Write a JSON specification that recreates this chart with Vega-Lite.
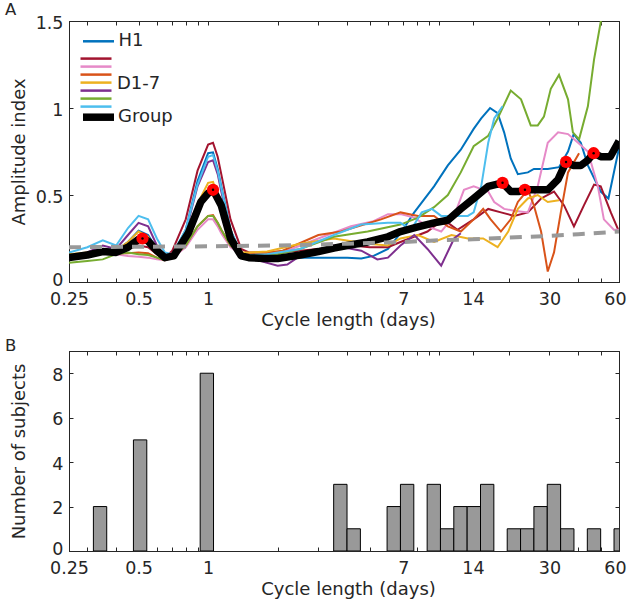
{
  "$schema": "https://vega.github.io/schema/vega-lite/v6.json",
  "padding": {"left": 4, "top": 1, "right": 0, "bottom": 0},
  "background": "white",
  "spacing": 69,
  "bounds": "flush",
  "config": {
    "font": "DejaVu Sans",
    "view": {"stroke": "#262626", "strokeWidth": 1},
    "axis": {
      "domainColor": "#262626", "tickColor": "#262626", "labelColor": "#262626", "titleColor": "#262626",
      "labelFont": "DejaVu Sans", "titleFont": "DejaVu Sans", "labelFontSize": 17.5, "titleFontSize": 18,
      "titleFontWeight": "normal", "grid": false, "tickSize": -4, "labelOverlap": false, "labelFlush": false,
      "labelBound": false, "domainWidth": 1, "tickWidth": 1
    },
    "legend": {"padding": 0, "labelFont": "DejaVu Sans", "labelColor": "#262626", "titleFont": "DejaVu Sans", "titleColor": "#262626"}
  },
  "datasets": {
    "curves": [
      {"s":"H1","d":0.25,"a":0.15},{"s":"H1","d":0.3,"a":0.17},{"s":"H1","d":0.35,"a":0.19},{"s":"H1","d":0.4,"a":0.18},{"s":"H1","d":0.45,"a":0.23},{"s":"H1","d":0.5,"a":0.295},{"s":"H1","d":0.55,"a":0.27},{"s":"H1","d":0.6,"a":0.19},{"s":"H1","d":0.65,"a":0.14},{"s":"H1","d":0.7,"a":0.15},{"s":"H1","d":0.8,"a":0.3},{"s":"H1","d":0.9,"a":0.58},{"s":"H1","d":1.0,"a":0.74},{"s":"H1","d":1.05,"a":0.745},{"s":"H1","d":1.1,"a":0.65},{"s":"H1","d":1.14,"a":0.55},{"s":"H1","d":1.25,"a":0.3},{"s":"H1","d":1.39,"a":0.16},{"s":"H1","d":1.5,"a":0.15},{"s":"H1","d":2,"a":0.15},{"s":"H1","d":2.5,"a":0.14},{"s":"H1","d":3,"a":0.14},{"s":"H1","d":4,"a":0.14},{"s":"H1","d":4.6,"a":0.135},{"s":"H1","d":5.2,"a":0.15},{"s":"H1","d":6,"a":0.19},{"s":"H1","d":6.8,"a":0.28},{"s":"H1","d":7.8,"a":0.4},{"s":"H1","d":9.5,"a":0.55},{"s":"H1","d":10.9,"a":0.67},{"s":"H1","d":12.4,"a":0.76},{"s":"H1","d":14.1,"a":0.88},{"s":"H1","d":15.2,"a":0.94},{"s":"H1","d":16.6,"a":1.0},{"s":"H1","d":17.9,"a":0.97},{"s":"H1","d":19.1,"a":0.86},{"s":"H1","d":20.4,"a":0.71},{"s":"H1","d":21.9,"a":0.62},{"s":"H1","d":24.2,"a":0.63},{"s":"H1","d":25.7,"a":0.65},{"s":"H1","d":29.5,"a":0.65},{"s":"H1","d":33,"a":0.66},{"s":"H1","d":36.1,"a":0.75},{"s":"H1","d":38.2,"a":0.85},{"s":"H1","d":41,"a":0.8},{"s":"H1","d":44,"a":0.67},{"s":"H1","d":50,"a":0.52},{"s":"H1","d":54,"a":0.48},{"s":"H1","d":60,"a":0.77},

      {"s":"D1","d":0.25,"a":0.15},{"s":"D1","d":0.3,"a":0.17},{"s":"D1","d":0.35,"a":0.19},{"s":"D1","d":0.4,"a":0.18},{"s":"D1","d":0.45,"a":0.19},{"s":"D1","d":0.5,"a":0.21},{"s":"D1","d":0.55,"a":0.2},{"s":"D1","d":0.6,"a":0.16},{"s":"D1","d":0.65,"a":0.14},{"s":"D1","d":0.7,"a":0.18},{"s":"D1","d":0.8,"a":0.36},{"s":"D1","d":0.9,"a":0.64},{"s":"D1","d":1.0,"a":0.79},{"s":"D1","d":1.05,"a":0.8},{"s":"D1","d":1.1,"a":0.72},{"s":"D1","d":1.14,"a":0.62},{"s":"D1","d":1.25,"a":0.36},{"s":"D1","d":1.39,"a":0.19},{"s":"D1","d":1.5,"a":0.17},{"s":"D1","d":2,"a":0.17},{"s":"D1","d":2.5,"a":0.18},{"s":"D1","d":3,"a":0.19},{"s":"D1","d":4.2,"a":0.21},{"s":"D1","d":5,"a":0.2},{"s":"D1","d":6,"a":0.2},{"s":"D1","d":6.8,"a":0.23},{"s":"D1","d":8.9,"a":0.29},{"s":"D1","d":10.4,"a":0.36},{"s":"D1","d":12,"a":0.3},{"s":"D1","d":14.1,"a":0.36},{"s":"D1","d":16.3,"a":0.42},{"s":"D1","d":18.5,"a":0.4},{"s":"D1","d":21.1,"a":0.38},{"s":"D1","d":24.2,"a":0.4},{"s":"D1","d":27.6,"a":0.48},{"s":"D1","d":31.4,"a":0.52},{"s":"D1","d":34.7,"a":0.44},{"s":"D1","d":38.3,"a":0.32},{"s":"D1","d":42.3,"a":0.44},{"s":"D1","d":46.8,"a":0.56},{"s":"D1","d":50,"a":0.55},{"s":"D1","d":55.3,"a":0.4},{"s":"D1","d":60,"a":0.29},

      {"s":"D2","d":0.25,"a":0.14},{"s":"D2","d":0.3,"a":0.16},{"s":"D2","d":0.35,"a":0.17},{"s":"D2","d":0.4,"a":0.16},{"s":"D2","d":0.45,"a":0.15},{"s":"D2","d":0.5,"a":0.145},{"s":"D2","d":0.55,"a":0.14},{"s":"D2","d":0.6,"a":0.13},{"s":"D2","d":0.65,"a":0.125},{"s":"D2","d":0.7,"a":0.14},{"s":"D2","d":0.8,"a":0.2},{"s":"D2","d":0.9,"a":0.3},{"s":"D2","d":1.0,"a":0.36},{"s":"D2","d":1.05,"a":0.36},{"s":"D2","d":1.1,"a":0.32},{"s":"D2","d":1.14,"a":0.28},{"s":"D2","d":1.25,"a":0.2},{"s":"D2","d":1.39,"a":0.16},{"s":"D2","d":1.5,"a":0.155},{"s":"D2","d":1.8,"a":0.16},{"s":"D2","d":2.1,"a":0.17},{"s":"D2","d":3,"a":0.25},{"s":"D2","d":4.15,"a":0.32},{"s":"D2","d":5.2,"a":0.35},{"s":"D2","d":6,"a":0.39},{"s":"D2","d":6.8,"a":0.39},{"s":"D2","d":7.8,"a":0.37},{"s":"D2","d":8.9,"a":0.32},{"s":"D2","d":10.2,"a":0.29},{"s":"D2","d":11.6,"a":0.38},{"s":"D2","d":12.8,"a":0.53},{"s":"D2","d":14.1,"a":0.55},{"s":"D2","d":16.3,"a":0.52},{"s":"D2","d":17.3,"a":0.46},{"s":"D2","d":19.1,"a":0.42},{"s":"D2","d":21.1,"a":0.41},{"s":"D2","d":24.2,"a":0.4},{"s":"D2","d":26.7,"a":0.55},{"s":"D2","d":29.5,"a":0.8},{"s":"D2","d":32.7,"a":0.86},{"s":"D2","d":36.1,"a":0.85},{"s":"D2","d":39.9,"a":0.8},{"s":"D2","d":44,"a":0.75},{"s":"D2","d":48.6,"a":0.55},{"s":"D2","d":51.6,"a":0.36},{"s":"D2","d":57,"a":0.3},{"s":"D2","d":60,"a":0.3},

      {"s":"D3","d":0.25,"a":0.15},{"s":"D3","d":0.3,"a":0.16},{"s":"D3","d":0.35,"a":0.17},{"s":"D3","d":0.4,"a":0.165},{"s":"D3","d":0.45,"a":0.165},{"s":"D3","d":0.5,"a":0.17},{"s":"D3","d":0.55,"a":0.165},{"s":"D3","d":0.6,"a":0.14},{"s":"D3","d":0.65,"a":0.125},{"s":"D3","d":0.7,"a":0.14},{"s":"D3","d":0.8,"a":0.21},{"s":"D3","d":0.9,"a":0.32},{"s":"D3","d":1.0,"a":0.38},{"s":"D3","d":1.05,"a":0.385},{"s":"D3","d":1.1,"a":0.34},{"s":"D3","d":1.14,"a":0.3},{"s":"D3","d":1.25,"a":0.21},{"s":"D3","d":1.39,"a":0.17},{"s":"D3","d":1.5,"a":0.16},{"s":"D3","d":1.8,"a":0.17},{"s":"D3","d":2.1,"a":0.18},{"s":"D3","d":3,"a":0.27},{"s":"D3","d":3.76,"a":0.29},{"s":"D3","d":5.6,"a":0.36},{"s":"D3","d":6.8,"a":0.4},{"s":"D3","d":8.1,"a":0.38},{"s":"D3","d":9.5,"a":0.38},{"s":"D3","d":10.9,"a":0.32},{"s":"D3","d":12.4,"a":0.29},{"s":"D3","d":14.1,"a":0.36},{"s":"D3","d":15.5,"a":0.42},{"s":"D3","d":16.7,"a":0.36},{"s":"D3","d":18.5,"a":0.29},{"s":"D3","d":20.4,"a":0.36},{"s":"D3","d":21.9,"a":0.46},{"s":"D3","d":24.2,"a":0.53},{"s":"D3","d":25.7,"a":0.44},{"s":"D3","d":27.6,"a":0.29},{"s":"D3","d":29.5,"a":0.06},{"s":"D3","d":31.4,"a":0.17},{"s":"D3","d":33.6,"a":0.4},{"s":"D3","d":36.1,"a":0.63},{"s":"D3","d":40.3,"a":0.74},

      {"s":"D4","d":0.25,"a":0.16},{"s":"D4","d":0.3,"a":0.17},{"s":"D4","d":0.35,"a":0.18},{"s":"D4","d":0.4,"a":0.18},{"s":"D4","d":0.45,"a":0.23},{"s":"D4","d":0.5,"a":0.29},{"s":"D4","d":0.55,"a":0.26},{"s":"D4","d":0.6,"a":0.18},{"s":"D4","d":0.65,"a":0.14},{"s":"D4","d":0.7,"a":0.15},{"s":"D4","d":0.8,"a":0.25},{"s":"D4","d":0.9,"a":0.45},{"s":"D4","d":1.0,"a":0.57},{"s":"D4","d":1.05,"a":0.575},{"s":"D4","d":1.1,"a":0.5},{"s":"D4","d":1.14,"a":0.43},{"s":"D4","d":1.25,"a":0.25},{"s":"D4","d":1.39,"a":0.17},{"s":"D4","d":1.5,"a":0.17},{"s":"D4","d":1.8,"a":0.175},{"s":"D4","d":2.5,"a":0.22},{"s":"D4","d":3.5,"a":0.25},{"s":"D4","d":4.9,"a":0.22},{"s":"D4","d":6,"a":0.21},{"s":"D4","d":6.8,"a":0.25},{"s":"D4","d":8.1,"a":0.27},{"s":"D4","d":9.5,"a":0.23},{"s":"D4","d":11.3,"a":0.27},{"s":"D4","d":13.3,"a":0.25},{"s":"D4","d":15.5,"a":0.25},{"s":"D4","d":17.9,"a":0.2},{"s":"D4","d":19.9,"a":0.29},{"s":"D4","d":21.9,"a":0.42},{"s":"D4","d":24.2,"a":0.48},{"s":"D4","d":26.7,"a":0.5},{"s":"D4","d":29.5,"a":0.46},{"s":"D4","d":33,"a":0.47},

      {"s":"D5","d":0.25,"a":0.14},{"s":"D5","d":0.3,"a":0.17},{"s":"D5","d":0.35,"a":0.21},{"s":"D5","d":0.4,"a":0.19},{"s":"D5","d":0.45,"a":0.27},{"s":"D5","d":0.5,"a":0.34},{"s":"D5","d":0.55,"a":0.32},{"s":"D5","d":0.6,"a":0.21},{"s":"D5","d":0.65,"a":0.15},{"s":"D5","d":0.7,"a":0.16},{"s":"D5","d":0.8,"a":0.29},{"s":"D5","d":0.9,"a":0.55},{"s":"D5","d":1.0,"a":0.69},{"s":"D5","d":1.05,"a":0.7},{"s":"D5","d":1.1,"a":0.62},{"s":"D5","d":1.14,"a":0.52},{"s":"D5","d":1.25,"a":0.29},{"s":"D5","d":1.39,"a":0.16},{"s":"D5","d":1.5,"a":0.14},{"s":"D5","d":1.69,"a":0.12},{"s":"D5","d":2.0,"a":0.094},{"s":"D5","d":2.2,"a":0.1},{"s":"D5","d":2.5,"a":0.15},{"s":"D5","d":3.0,"a":0.18},{"s":"D5","d":3.5,"a":0.21},{"s":"D5","d":4.2,"a":0.19},{"s":"D5","d":4.6,"a":0.18},{"s":"D5","d":5.4,"a":0.13},{"s":"D5","d":6.0,"a":0.14},{"s":"D5","d":6.8,"a":0.21},{"s":"D5","d":7.8,"a":0.27},{"s":"D5","d":8.9,"a":0.19},{"s":"D5","d":10.2,"a":0.094},{"s":"D5","d":11.6,"a":0.25},{"s":"D5","d":12.4,"a":0.28},

      {"s":"D6","d":0.25,"a":0.11},{"s":"D6","d":0.3,"a":0.12},{"s":"D6","d":0.35,"a":0.13},{"s":"D6","d":0.4,"a":0.16},{"s":"D6","d":0.45,"a":0.17},{"s":"D6","d":0.5,"a":0.16},{"s":"D6","d":0.55,"a":0.155},{"s":"D6","d":0.6,"a":0.14},{"s":"D6","d":0.65,"a":0.125},{"s":"D6","d":0.7,"a":0.14},{"s":"D6","d":0.8,"a":0.21},{"s":"D6","d":0.9,"a":0.32},{"s":"D6","d":1.0,"a":0.38},{"s":"D6","d":1.05,"a":0.38},{"s":"D6","d":1.1,"a":0.34},{"s":"D6","d":1.14,"a":0.3},{"s":"D6","d":1.25,"a":0.21},{"s":"D6","d":1.39,"a":0.16},{"s":"D6","d":1.5,"a":0.15},{"s":"D6","d":2,"a":0.16},{"s":"D6","d":2.5,"a":0.19},{"s":"D6","d":3.5,"a":0.26},{"s":"D6","d":4.9,"a":0.29},{"s":"D6","d":6.8,"a":0.33},{"s":"D6","d":8.1,"a":0.37},{"s":"D6","d":9.5,"a":0.43},{"s":"D6","d":10.9,"a":0.5},{"s":"D6","d":12.4,"a":0.63},{"s":"D6","d":14.1,"a":0.78},{"s":"D6","d":16.3,"a":0.84},{"s":"D6","d":17.9,"a":0.94},{"s":"D6","d":20.4,"a":1.1},{"s":"D6","d":22.6,"a":1.05},{"s":"D6","d":24.9,"a":0.9},{"s":"D6","d":26.7,"a":0.9},{"s":"D6","d":28.4,"a":0.95},{"s":"D6","d":30.4,"a":1.11},{"s":"D6","d":33,"a":1.19},{"s":"D6","d":36.1,"a":1.05},{"s":"D6","d":37.9,"a":0.86},{"s":"D6","d":40.3,"a":0.82},{"s":"D6","d":44,"a":1.01},{"s":"D6","d":46.8,"a":1.28},{"s":"D6","d":50.1,"a":1.5},{"s":"D6","d":53,"a":1.75},

      {"s":"D7","d":0.25,"a":0.17},{"s":"D7","d":0.3,"a":0.2},{"s":"D7","d":0.35,"a":0.24},{"s":"D7","d":0.4,"a":0.21},{"s":"D7","d":0.45,"a":0.31},{"s":"D7","d":0.5,"a":0.38},{"s":"D7","d":0.55,"a":0.36},{"s":"D7","d":0.6,"a":0.25},{"s":"D7","d":0.65,"a":0.17},{"s":"D7","d":0.7,"a":0.16},{"s":"D7","d":0.8,"a":0.3},{"s":"D7","d":0.9,"a":0.56},{"s":"D7","d":1.0,"a":0.72},{"s":"D7","d":1.05,"a":0.73},{"s":"D7","d":1.1,"a":0.64},{"s":"D7","d":1.14,"a":0.54},{"s":"D7","d":1.25,"a":0.3},{"s":"D7","d":1.39,"a":0.16},{"s":"D7","d":1.5,"a":0.155},{"s":"D7","d":1.8,"a":0.16},{"s":"D7","d":2.5,"a":0.19},{"s":"D7","d":3.5,"a":0.27},{"s":"D7","d":4.6,"a":0.33},{"s":"D7","d":6,"a":0.34},{"s":"D7","d":6.8,"a":0.34},{"s":"D7","d":7.55,"a":0.3},{"s":"D7","d":8.4,"a":0.4},{"s":"D7","d":9.3,"a":0.42},{"s":"D7","d":10.2,"a":0.38},{"s":"D7","d":13.3,"a":0.38},{"s":"D7","d":14.1,"a":0.4},{"s":"D7","d":15.2,"a":0.55},{"s":"D7","d":16.3,"a":0.8},{"s":"D7","d":17.3,"a":0.94},{"s":"D7","d":18.8,"a":1.01},

      {"s":"Group","d":0.25,"a":0.14},{"s":"Group","d":0.3,"a":0.155},{"s":"Group","d":0.35,"a":0.175},{"s":"Group","d":0.4,"a":0.17},{"s":"Group","d":0.45,"a":0.2},{"s":"Group","d":0.5,"a":0.245},{"s":"Group","d":0.52,"a":0.25},{"s":"Group","d":0.55,"a":0.235},{"s":"Group","d":0.6,"a":0.18},{"s":"Group","d":0.65,"a":0.14},{"s":"Group","d":0.71,"a":0.15},{"s":"Group","d":0.82,"a":0.28},{"s":"Group","d":0.93,"a":0.46},{"s":"Group","d":1.0,"a":0.51},{"s":"Group","d":1.05,"a":0.53},{"s":"Group","d":1.14,"a":0.44},{"s":"Group","d":1.25,"a":0.25},{"s":"Group","d":1.39,"a":0.15},{"s":"Group","d":1.5,"a":0.14},{"s":"Group","d":1.75,"a":0.135},{"s":"Group","d":2,"a":0.135},{"s":"Group","d":2.5,"a":0.155},{"s":"Group","d":3,"a":0.175},{"s":"Group","d":3.5,"a":0.195},{"s":"Group","d":4,"a":0.21},{"s":"Group","d":4.9,"a":0.23},{"s":"Group","d":6,"a":0.26},{"s":"Group","d":6.8,"a":0.29},{"s":"Group","d":8,"a":0.315},{"s":"Group","d":9.5,"a":0.34},{"s":"Group","d":10.9,"a":0.355},{"s":"Group","d":12.4,"a":0.42},{"s":"Group","d":14.1,"a":0.48},{"s":"Group","d":16.3,"a":0.55},{"s":"Group","d":18.8,"a":0.57},{"s":"Group","d":20.4,"a":0.52},{"s":"Group","d":22,"a":0.52},{"s":"Group","d":23.5,"a":0.53},{"s":"Group","d":26,"a":0.53},{"s":"Group","d":29.5,"a":0.53},{"s":"Group","d":32.7,"a":0.59},{"s":"Group","d":35.4,"a":0.69},{"s":"Group","d":38,"a":0.67},{"s":"Group","d":41,"a":0.67},{"s":"Group","d":44,"a":0.7},{"s":"Group","d":46.6,"a":0.74},{"s":"Group","d":50,"a":0.72},{"s":"Group","d":55,"a":0.72},{"s":"Group","d":60,"a":0.81},

      {"s":"Threshold","d":0.25,"a":0.2},{"s":"Threshold","d":1,"a":0.205},{"s":"Threshold","d":2,"a":0.21},{"s":"Threshold","d":4,"a":0.22},{"s":"Threshold","d":7,"a":0.23},{"s":"Threshold","d":10,"a":0.24},{"s":"Threshold","d":14,"a":0.245},{"s":"Threshold","d":20,"a":0.255},{"s":"Threshold","d":30,"a":0.265},{"s":"Threshold","d":40,"a":0.275},{"s":"Threshold","d":60,"a":0.29}
    ],
    "peaks": [
      {"d":0.52,"a":0.25},{"d":1.05,"a":0.53},{"d":18.8,"a":0.57},{"d":23.5,"a":0.53},{"d":35.4,"a":0.69},{"d":46.6,"a":0.74}
    ],
    "hist": [
      {"lo":0.3188,"hi":0.3641,"n":2},
      {"lo":0.4751,"hi":0.5427,"n":5},
      {"lo":0.924,"hi":1.0554,"n":8},
      {"lo":3.4937,"hi":3.9912,"n":3},
      {"lo":3.9912,"hi":4.5595,"n":1},
      {"lo":5.9502,"hi":6.797,"n":2},
      {"lo":6.797,"hi":7.7644,"n":3},
      {"lo":8.8693,"hi":10.1268,"n":3},
      {"lo":10.1268,"hi":11.5675,"n":1},
      {"lo":11.5675,"hi":13.2135,"n":2},
      {"lo":13.2135,"hi":15.0936,"n":2},
      {"lo":15.0936,"hi":17.2415,"n":3},
      {"lo":19.6949,"hi":22.4977,"n":1},
      {"lo":22.4977,"hi":25.6989,"n":1},
      {"lo":25.6989,"hi":29.356,"n":2},
      {"lo":29.356,"hi":33.5333,"n":3},
      {"lo":33.5333,"hi":38.3049,"n":1},
      {"lo":43.7555,"hi":49.982,"n":1},
      {"lo":57.0941,"hi":65.2183,"n":1}
    ]
  },
  "vconcat": [
    {
      "width": 550,
      "height": 261,
      "title": {"text": "A", "anchor": "start", "frame": "group", "orient": "top", "offset": 0, "dx": -64, "dy": 17, "baseline": "alphabetic", "fontSize": 16.5, "fontWeight": "normal", "font": "DejaVu Sans", "color": "#262626"},
      "layer": [
        {
          "data": {"name": "curves"},
          "transform": [{"filter": "datum.s === 'H1'"}],
          "mark": {"type": "line", "strokeWidth": 2, "clip": true},
          "encoding": {
            "x": {"field": "d", "type": "quantitative", "scale": {"type": "log", "domain": [0.25, 60], "nice": false},
              "axis": {"orient": "bottom", "values": [0.25,0.3,0.4,0.5,0.6,0.7,0.8,0.9,1,2,3,4,5,6,7,8,9,10,14,20,30,40,50,60],
                "labelExpr": "indexof([0.25,0.5,1,7,14,30,60], datum.value) >= 0 ? toString(datum.value) : ''",
                "labelPadding": 26, "labelBaseline": "alphabetic",
                "labelOffset": {"condition": {"test": "datum.value == 60", "value": -4}, "value": 0},
                "title": "Cycle length (days)", "titleX": 279, "titleY": 43, "titleBaseline": "alphabetic", "titleAlign": "center"}},
            "y": {"field": "a", "type": "quantitative", "scale": {"domain": [0, 1.5], "nice": false, "zero": false},
              "axis": {"orient": "left", "values": [0, 0.5, 1, 1.5], "labelExpr": "toString(datum.value)",
                "labelPadding": 10, "labelBaseline": "alphabetic",
                "labelOffset": {"condition": {"test": "datum.value == 0", "value": 3.5}, "value": 7},
                "title": "Amplitude index", "titleX": -45, "titleY": 130.5, "titleAngle": -90, "titleBaseline": "alphabetic", "titleAlign": "center"}},
            "color": {"field": "s", "type": "nominal", "scale": {"domain": ["H1"], "range": ["#0072BD"]},
              "legend": {"orient": "none", "legendX": 12.5, "legendY": 3.3, "title": null, "symbolType": "stroke", "symbolSize": 961, "symbolStrokeWidth": 2.5, "labelFontSize": 18, "labelOffset": 3}}
          }
        },
        {
          "data": {"name": "curves"},
          "transform": [{"filter": "indexof(['D1','D2','D3','D4','D5','D6','D7'], datum.s) >= 0"}],
          "mark": {"type": "line", "strokeWidth": 2, "clip": true},
          "encoding": {
            "x": {"field": "d", "type": "quantitative", "scale": {"type": "log", "domain": [0.25, 60], "nice": false}, "axis": null},
            "y": {"field": "a", "type": "quantitative", "scale": {"domain": [0, 1.5], "nice": false, "zero": false}, "axis": null},
            "color": {"field": "s", "type": "nominal",
              "scale": {"domain": ["D1","D2","D3","D4","D5","D6","D7"], "range": ["#A2142F","#E68AC8","#D95319","#EDB120","#7E2F8E","#77AC30","#4DBEEE"]},
              "legend": {"orient": "none", "legendX": 14, "legendY": 35.1, "title": "D1-7", "titleOrient": "right", "titleAnchor": "middle", "titleBaseline": "middle", "titleFontSize": 18, "titleFontWeight": "normal", "titlePadding": 0, "labelExpr": "''", "labelFontSize": 1, "labelOffset": 0, "symbolType": "M-15.5,0H15.5", "symbolSize": 4, "symbolOffset": 10.5, "symbolStrokeWidth": 2.5, "rowPadding": -3.8}}
          }
        },
        {
          "data": {"name": "curves"},
          "transform": [{"filter": "datum.s === 'Group'"}],
          "mark": {"type": "line", "strokeWidth": 7.5, "strokeJoin": "round", "clip": true},
          "encoding": {
            "x": {"field": "d", "type": "quantitative", "scale": {"type": "log", "domain": [0.25, 60], "nice": false}, "axis": null},
            "y": {"field": "a", "type": "quantitative", "scale": {"domain": [0, 1.5], "nice": false, "zero": false}, "axis": null},
            "color": {"field": "s", "type": "nominal", "scale": {"domain": ["Group"], "range": ["#000000"]},
              "legend": {"orient": "none", "legendX": 10, "legendY": 76.7, "title": null, "symbolType": "stroke", "symbolSize": 961, "symbolStrokeWidth": 7.5, "labelFontSize": 18, "labelOffset": 0}}
          }
        },
        {
          "data": {"name": "curves"},
          "transform": [{"filter": "datum.s === 'Threshold'"}],
          "mark": {"type": "line", "strokeWidth": 4, "strokeDash": [12, 9], "color": "#999999", "clip": true},
          "encoding": {
            "x": {"field": "d", "type": "quantitative", "scale": {"type": "log", "domain": [0.25, 60], "nice": false}, "axis": null},
            "y": {"field": "a", "type": "quantitative", "scale": {"domain": [0, 1.5], "nice": false, "zero": false}, "axis": null}
          }
        },
        {
          "data": {"name": "peaks"},
          "mark": {"type": "point", "filled": true, "color": "#FF0000", "size": 150, "opacity": 1},
          "encoding": {
            "x": {"field": "d", "type": "quantitative", "scale": {"type": "log", "domain": [0.25, 60], "nice": false}, "axis": null},
            "y": {"field": "a", "type": "quantitative", "scale": {"domain": [0, 1.5], "nice": false, "zero": false}, "axis": null}
          }
        },
        {
          "data": {"name": "peaks"},
          "mark": {"type": "point", "filled": true, "color": "#000000", "size": 6, "opacity": 1},
          "encoding": {
            "x": {"field": "d", "type": "quantitative", "scale": {"type": "log", "domain": [0.25, 60], "nice": false}, "axis": null},
            "y": {"field": "a", "type": "quantitative", "scale": {"domain": [0, 1.5], "nice": false, "zero": false}, "axis": null}
          }
        },
        {
          "data": {"name": "peaks"},
          "mark": {"type": "point", "opacity": 0},
          "encoding": {
            "x": {"field": "d", "type": "quantitative", "scale": {"type": "log", "domain": [0.25, 60], "nice": false},
              "axis": {"orient": "top", "values": [0.25,0.3,0.4,0.5,0.6,0.7,0.8,0.9,1,2,3,4,5,6,7,8,9,10,14,20,30,40,50,60], "labels": false, "title": null}},
            "y": {"field": "a", "type": "quantitative", "scale": {"domain": [0, 1.5], "nice": false, "zero": false},
              "axis": {"orient": "right", "values": [0, 0.5, 1, 1.5], "labels": false, "title": null}}
          }
        }
      ],
      "resolve": {"scale": {"color": "independent"}, "axis": {"x": "independent", "y": "independent"}}
    },
    {
      "width": 550,
      "height": 200,
      "title": {"text": "B", "anchor": "start", "frame": "group", "orient": "top", "offset": 0, "dx": -64, "dy": 17, "baseline": "alphabetic", "fontSize": 16.5, "fontWeight": "normal", "font": "DejaVu Sans", "color": "#262626"},
      "layer": [
        {
          "data": {"name": "hist"},
          "mark": {"type": "bar", "color": "#999999", "stroke": "#000000", "strokeWidth": 1, "clip": true},
          "encoding": {
            "x": {"field": "lo", "type": "quantitative", "scale": {"type": "log", "domain": [0.25, 60], "nice": false},
              "axis": {"orient": "bottom", "values": [0.25,0.3,0.4,0.5,0.6,0.7,0.8,0.9,1,2,3,4,5,6,7,8,9,10,14,20,30,40,50,60],
                "labelExpr": "indexof([0.25,0.5,1,7,14,30,60], datum.value) >= 0 ? toString(datum.value) : ''",
                "labelPadding": 26, "labelBaseline": "alphabetic",
                "labelOffset": {"condition": {"test": "datum.value == 60", "value": -4}, "value": 0},
                "title": "Cycle length (days)", "titleX": 279, "titleY": 43, "titleBaseline": "alphabetic", "titleAlign": "center"}},
            "x2": {"field": "hi"},
            "y": {"field": "n", "type": "quantitative", "scale": {"domain": [0, 9], "nice": false},
              "axis": {"orient": "left", "values": [0, 2, 4, 6, 8], "labelPadding": 10, "labelBaseline": "alphabetic",
                "labelOffset": {"condition": {"test": "datum.value == 0", "value": 3}, "value": 7},
                "title": "Number of subjects", "titleX": -45, "titleY": 100, "titleAngle": -90, "titleBaseline": "alphabetic", "titleAlign": "center"}},
            "y2": {"datum": 0}
          }
        },
        {
          "data": {"name": "hist"},
          "mark": {"type": "point", "opacity": 0},
          "encoding": {
            "x": {"field": "lo", "type": "quantitative", "scale": {"type": "log", "domain": [0.25, 60], "nice": false},
              "axis": {"orient": "top", "values": [0.25,0.3,0.4,0.5,0.6,0.7,0.8,0.9,1,2,3,4,5,6,7,8,9,10,14,20,30,40,50,60], "labels": false, "title": null}},
            "y": {"field": "n", "type": "quantitative", "scale": {"domain": [0, 9], "nice": false},
              "axis": {"orient": "right", "values": [0, 2, 4, 6, 8], "labels": false, "title": null}}
          }
        }
      ],
      "resolve": {"axis": {"x": "independent", "y": "independent"}}
    }
  ]
}
